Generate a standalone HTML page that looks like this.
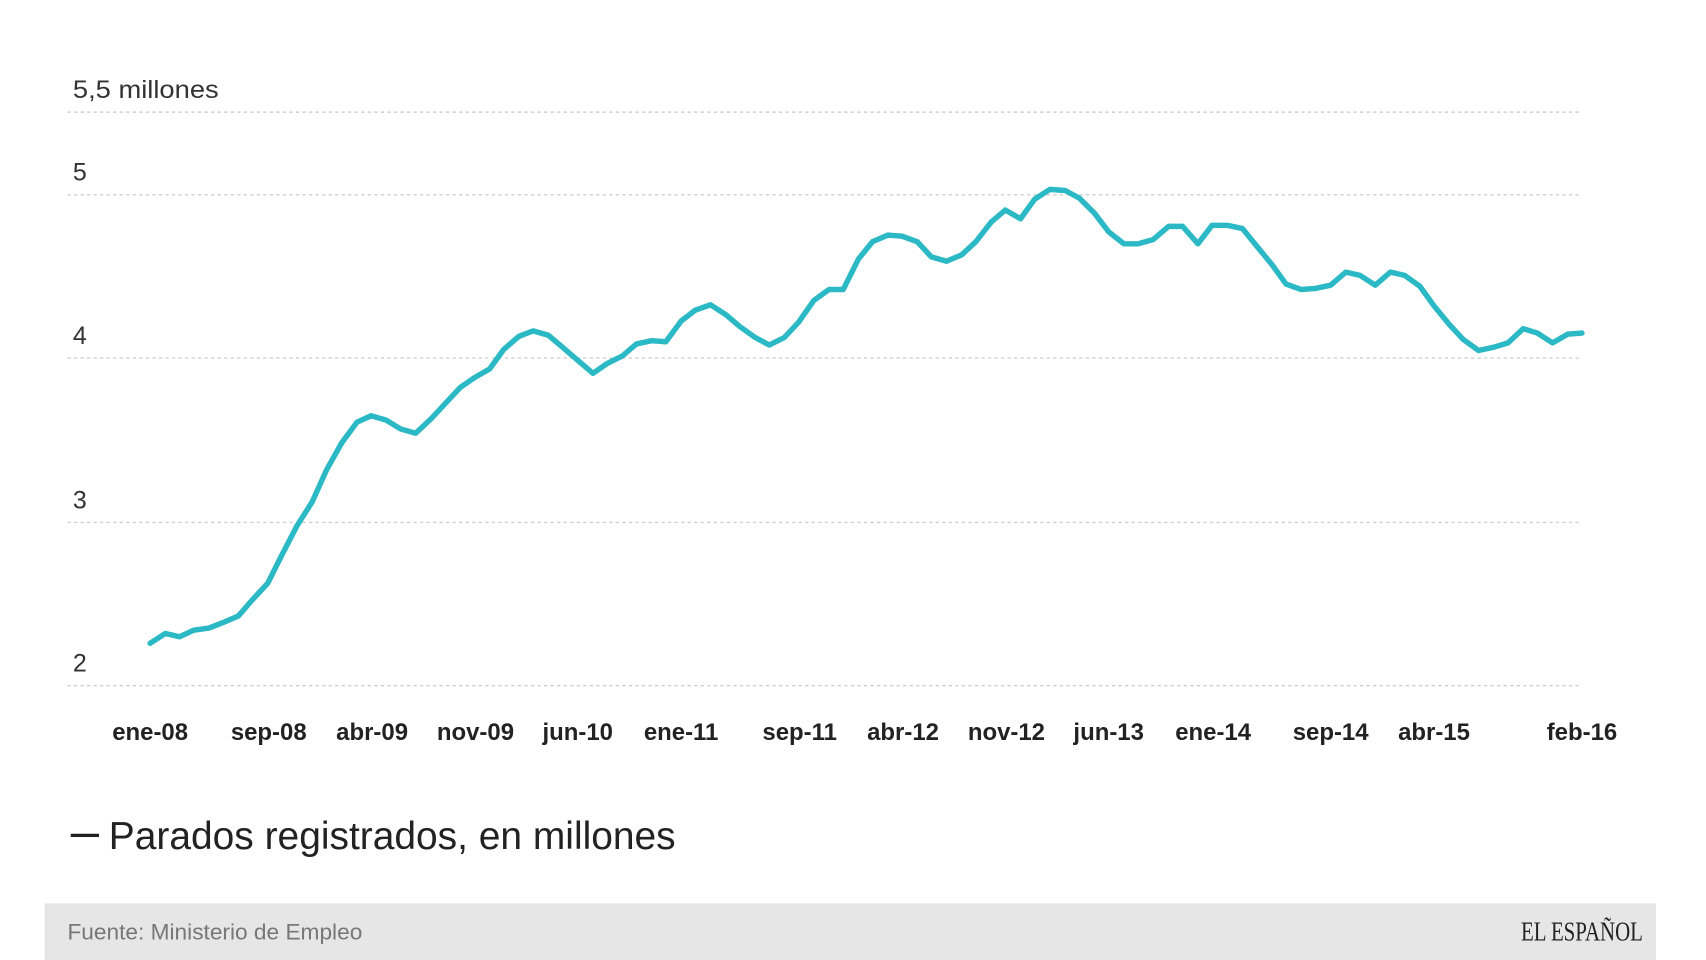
<!DOCTYPE html>
<html><head><meta charset="utf-8"><style>html,body{margin:0;padding:0;background:#fff;}svg{display:block}</style></head>
<body>
<svg width="1706" height="960" viewBox="0 0 1568 882" preserveAspectRatio="none" xmlns="http://www.w3.org/2000/svg" font-family="Liberation Sans, sans-serif">
<g stroke="#cfcfcf" stroke-width="1.3" stroke-dasharray="3,3">
<line x1="62" y1="103" x2="1452" y2="103"/>
<line x1="62" y1="179" x2="1452" y2="179"/>
<line x1="62" y1="329" x2="1452" y2="329"/>
<line x1="62" y1="480" x2="1452" y2="480"/>
<line x1="62" y1="630" x2="1452" y2="630"/>
</g>
<g fill="#333" font-size="23">
<text x="67" y="90" textLength="134" lengthAdjust="spacingAndGlyphs">5,5 millones</text>
<text x="67" y="166">5</text>
<text x="67" y="316">4</text>
<text x="67" y="467">3</text>
<text x="67" y="617">2</text>
</g>
<g fill="#222" font-size="22" font-weight="bold" text-anchor="middle">
<text x="138" y="680">ene-08</text>
<text x="247" y="680">sep-08</text>
<text x="342" y="680">abr-09</text>
<text x="437" y="680">nov-09</text>
<text x="531" y="680">jun-10</text>
<text x="626" y="680">ene-11</text>
<text x="735" y="680">sep-11</text>
<text x="830" y="680">abr-12</text>
<text x="925" y="680">nov-12</text>
<text x="1019" y="680">jun-13</text>
<text x="1115" y="680">ene-14</text>
<text x="1223" y="680">sep-14</text>
<text x="1318" y="680">abr-15</text>
<text x="1454" y="680">feb-16</text>
</g>
<polyline fill="none" stroke="#2bb9c5" stroke-width="5" stroke-linejoin="round" stroke-linecap="round" points="138,591 152,582 165,585 178,579 192,577 205,572 219,566 232,551 246,536 259,510 273,483 287,461 300,432 314,407 328,388 341,382 355,386 368,394 382,398 396,385 409,371 423,356 436,347 450,339 463,321 477,309 490,304 504,308 517,319 531,331 545,343 558,334 572,327 585,316 599,313 612,314 626,295 639,285 653,280 667,289 680,300 694,310 707,317 721,310 734,296 748,276 762,266 775,266 789,238 802,222 816,216 829,217 843,222 856,236 870,240 884,234 897,222 911,204 924,193 938,201 951,183 965,174 979,175 992,182 1006,196 1019,213 1033,224 1046,224 1060,220 1074,208 1087,208 1101,224 1114,207 1128,207 1142,210 1155,226 1169,243 1182,261 1196,266 1209,265 1223,262 1237,250 1250,253 1264,262 1278,250 1291,253 1305,263 1318,281 1332,298 1345,312 1359,322 1373,319 1386,315 1400,302 1413,306 1427,315 1441,307 1454,306"/>
<rect x="65" y="766" width="26" height="3" fill="#222"/>
<text x="100" y="780" font-size="36" fill="#222" textLength="521" lengthAdjust="spacingAndGlyphs">Parados registrados, en millones</text>
<rect x="41" y="830" width="1481" height="52" fill="#e6e6e6"/>
<text x="62" y="863" font-size="20" fill="#777" textLength="271" lengthAdjust="spacingAndGlyphs">Fuente: Ministerio de Empleo</text>
<text x="1510" y="864" font-size="25" fill="#222" text-anchor="end" font-family="Liberation Serif, serif" textLength="112" lengthAdjust="spacingAndGlyphs">EL ESPAÑOL</text>
</svg>
</body></html>
